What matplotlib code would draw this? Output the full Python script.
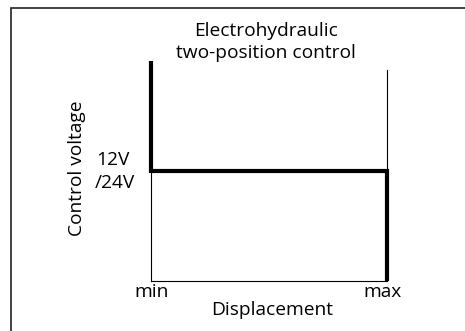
import matplotlib
matplotlib.use("Agg")
import matplotlib.pyplot as plt
from matplotlib.patches import Rectangle

# two-position step: full voltage at min, drops to 12V/24V level, held until max
displacement = [0.0, 0.0, 1.0, 1.0]
voltage = [1.0, 0.5, 0.5, 0.0]
x_labels = ["min", "max"]
level_label = ["12V", "/24V"]
guide_top = 0.96

W, H = 465, 331
plt.rcParams["font.family"] = ["Open Sans", "DejaVu Sans"]
fs = 13.8

fig = plt.figure(figsize=(W / 100, H / 100), dpi=100)

def fx(px):
    return px / W

def fy(py):
    return 1 - py / H

# outer frame, running off the right and bottom edges
fig.patches.append(Rectangle((fx(10.5), -0.2), 1.2, fy(7.5) + 0.2,
                             transform=fig.transFigure, fill=False,
                             edgecolor="#222222", linewidth=1.2))

ax = fig.add_axes([fx(151), fy(281), fx(387) - fx(151), fy(61) - fy(281)])
ax.set_xlim(0, 1)
ax.set_ylim(0, 1)
for s in ["top", "right"]:
    ax.spines[s].set_visible(False)
for s in ["left", "bottom"]:
    ax.spines[s].set_linewidth(0.8)
ax.set_xticks([])
ax.set_yticks([])
ax.patch.set_alpha(0)

ax.axvline(displacement[-1], ymin=0, ymax=guide_top, color="black", lw=0.8,
           clip_on=False)
ax.plot(displacement, voltage, color="black", lw=3.0, clip_on=False,
        solid_joinstyle="miter", solid_capstyle="butt")

fig.text(fx(266), fy(36), "Electrohydraulic", ha="center", va="baseline", fontsize=fs)
fig.text(fx(266), fy(58), "two-position control", ha="center", va="baseline", fontsize=fs)
fig.text(fx(77), fy(168.5), "Control voltage", ha="center", va="center",
         rotation=90, fontsize=fs)
fig.text(fx(96), fy(165), level_label[0], ha="left", va="baseline", fontsize=fs)
fig.text(fx(95), fy(188), level_label[1], ha="left", va="baseline", fontsize=fs)
fig.text(fx(151.7), fy(297), x_labels[0], ha="center", va="baseline", fontsize=fs)
fig.text(fx(382), fy(297), x_labels[1], ha="center", va="baseline", fontsize=fs)
fig.text(fx(272), fy(315), "Displacement", ha="center", va="baseline", fontsize=fs)

fig.savefig("out.png", dpi=100)
